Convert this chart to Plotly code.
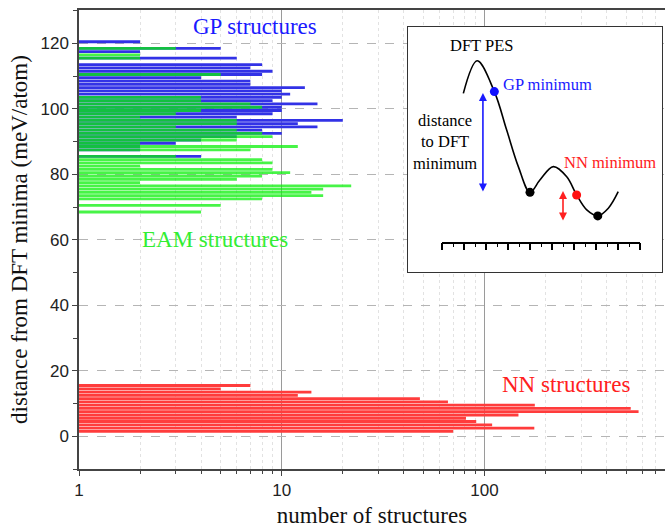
import plotly.graph_objects as go

# ---------------- data ----------------
# bin centres (meV/atom) and number of structures per bin
gp_centers = [120.5, 119.5, 118.5, 117.5, 116.5, 115.5, 114.5, 113.5, 112.5, 111.5,
              110.5, 109.5, 108.5, 107.5, 106.5, 105.5, 104.5, 103.5, 102.5, 101.5,
              100.5, 99.5, 98.5, 97.5, 96.5, 95.5, 94.5, 93.5, 92.5, 91.5,
              90.5, 89.5, 88.5, 87.5, 86.5, 85.5]
gp_counts = [2, 0, 5, 2, 0, 6, 0, 8, 7, 9,
             8, 4, 7, 7, 13, 10, 11, 10, 9, 15,
             10, 10, 9, 6, 20, 12, 15, 8, 10, 6,
             4, 3, 2, 2, 0, 4]

eam_centers = [118.5, 116.5, 115.5, 110.5, 103.5, 102.5, 101.5, 100.5, 99.5, 98.5,
               97.5, 96.5, 95.5, 94.5, 93.5, 92.5, 91.5, 90.5, 89.5, 88.5,
               87.5, 85.5, 84.5, 83.5, 82.5, 81.5, 80.5, 79.5, 78.5, 77.5,
               76.5, 75.5, 74.5, 73.5, 72.5, 70.5, 68.5]
eam_counts = [3, 2, 2, 5, 4, 4, 7, 8, 4, 3,
              2, 6, 6, 3, 6, 8, 9, 6, 2, 12,
              7, 3, 8, 9, 2, 9, 11, 8, 6, 2,
              22, 16, 14, 16, 8, 5, 4]

nn_centers = [1.5, 2.5, 3.5, 4.5, 5.5, 6.5, 7.5, 8.5, 9.5, 10.5, 11.5, 12.5, 13.5, 14.5, 15.5]
nn_counts = [70, 176, 109, 91, 81, 147, 575, 526, 177, 66, 48, 12, 14, 5, 7]

# inset schematic (arbitrary units, ruler runs 0..9)
pes_x = [0.97, 1.60, 2.38, 2.94, 3.47, 4.0, 4.45, 5.06, 5.67, 6.12, 6.58, 7.08, 7.56, 8.01]
pes_y = [8.12, 9.60, 8.20, 6.45, 4.79, 3.62, 4.18, 4.79, 4.33, 3.50, 2.82, 2.55, 2.90, 3.65]
dot_x = [2.38, 4.0, 6.12, 7.08]
dot_y = [8.20, 3.62, 3.50, 2.55]
dot_colors = ["#1010ff", "black", "#ff1010", "black"]
inset_x = [-1.545, 10.0]
inset_y = [0, 11.136]

def nz(c, v):
    pairs = [(a, b) for a, b in zip(c, v) if b > 0]
    return [p[0] for p in pairs], [p[1] for p in pairs]

gy, gx = nz(gp_centers, gp_counts)
ey, ex = nz(eam_centers, eam_counts)
ny, nx = nz(nn_centers, nn_counts)

SERIF = "Liberation Serif"
SANS = "Liberation Sans"

fig = go.Figure()
fig.add_trace(go.Bar(x=gx, y=gy, orientation="h", width=0.86,
                     marker=dict(color="#3232e6", line=dict(width=0)), name="GP"))
fig.add_trace(go.Bar(x=ex, y=ey, orientation="h", width=0.86,
                     marker=dict(color="rgba(10,240,10,0.75)", line=dict(width=0)), name="EAM"))
fig.add_trace(go.Bar(x=nx, y=ny, orientation="h", width=0.86,
                     marker=dict(color="#ff3c3c", line=dict(width=0)), name="NN"))

# inset frame subplot (white background)
fig.add_trace(go.Scatter(x=[inset_x[0], inset_x[1], inset_x[1], inset_x[0], inset_x[0]],
                         y=[inset_y[0], inset_y[0], inset_y[1], inset_y[1], inset_y[0]],
                         mode="lines", fill="toself", fillcolor="white",
                         line=dict(width=0, color="white"), xaxis="x2", yaxis="y2",
                         hoverinfo="skip"))
# curve and dots on the ruler subplot
fig.add_trace(go.Scatter(x=pes_x, y=pes_y, mode="lines", xaxis="x3", yaxis="y2",
                         line=dict(color="black", width=1.6, shape="spline", smoothing=1.0),
                         hoverinfo="skip"))
fig.add_trace(go.Scatter(x=dot_x, y=dot_y, mode="markers", xaxis="x3", yaxis="y2",
                         marker=dict(color=dot_colors, size=9), hoverinfo="skip"))

L, W, T, H = 79, 586, 10, 459
def px(x):
    return (x - L) / W
def py(y):
    return 1 - (y - T) / H

minor_x = [2, 3, 4, 5, 6, 7, 8, 9, 20, 30, 40, 50, 60, 70, 80, 90, 200, 300, 400, 500, 600, 700]

fig.update_layout(
    width=665, height=529,
    margin=dict(l=L, r=0, t=T, b=529 - T - H),
    paper_bgcolor="white", plot_bgcolor="white",
    showlegend=False, barmode="overlay",
    xaxis=dict(type="log", range=[0, 2.89], tickvals=[1, 10, 100], ticktext=["1", "10", "100"],
               ticks="outside", ticklen=5, tickcolor="#444", tickwidth=1.2,
               showline=True, linecolor="#444", linewidth=1.5, mirror=True,
               showgrid=True, gridcolor="#9a9a9a", gridwidth=1, zeroline=False,
               minor=dict(tickvals=minor_x, ticks="outside", ticklen=3, tickcolor="#444",
                          showgrid=True, gridcolor="#e2e2e2", griddash="dot"),
               tickfont=dict(family=SANS, size=17, color="#222"),
               title=dict(text="number of structures", font=dict(family=SERIF, size=23, color="#111"),
                          standoff=8)),
    yaxis=dict(range=[-10, 130.2], tick0=0, dtick=20,
               ticks="outside", ticklen=5, tickcolor="#444", tickwidth=1.2,
               showline=True, linecolor="#444", linewidth=1.5, mirror=False,
               showgrid=True, gridcolor="#b5b5b5", griddash="dash", zeroline=False,
               minor=dict(dtick=10, ticks="outside", ticklen=4, tickcolor="#444"),
               tickfont=dict(family=SANS, size=17, color="#222"),
               title=dict(text="distance from DFT minima (meV/atom)",
                          font=dict(family=SERIF, size=23, color="#111"), standoff=6)),
    xaxis2=dict(domain=[px(408), px(662)], range=inset_x, anchor="y2",
                showline=True, mirror=True, linecolor="#333", linewidth=1.2,
                ticks="", showticklabels=False, showgrid=False, zeroline=False),
    yaxis2=dict(domain=[py(272), py(27)], range=inset_y, anchor="x2",
                showline=True, mirror=True, linecolor="#333", linewidth=1.2,
                ticks="", showticklabels=False, showgrid=False, zeroline=False),
    xaxis3=dict(domain=[px(442), px(640)], range=[0, 9], anchor="free", position=py(242.7),
                showline=True, linecolor="black", linewidth=1.5,
                ticks="outside", ticklen=7, tickwidth=1.5, tickcolor="black", tick0=0, dtick=1,
                minor=dict(dtick=0.5, ticks="outside", ticklen=4, tickwidth=1.2, tickcolor="black"),
                showticklabels=False, showgrid=False, zeroline=False),
)

ann = [
    dict(text="GP structures", x=px(255), y=py(27), color="#1a1aff", size=23),
    dict(text="EAM structures", x=px(215), y=py(240), color="#33ee33", size=23),
    dict(text="NN structures", x=px(566), y=py(384), color="#ff2020", size=23),
    dict(text="DFT PES", x=px(481), y=py(45), color="black", size=16.5),
    dict(text="distance<br>to DFT<br>minimum", x=px(445), y=py(142), color="black", size=16.5),
]
for a in ann:
    fig.add_annotation(text=a["text"], x=a["x"], y=a["y"], xref="paper", yref="paper",
                       showarrow=False, xanchor="center", yanchor="middle",
                       font=dict(family=SERIF, size=a["size"], color=a["color"]))
fig.add_annotation(text="GP minimum", x=px(501), y=py(85), xref="paper", yref="paper",
                   showarrow=False, xanchor="left", yanchor="middle",
                   font=dict(family=SERIF, size=16.5, color="#1a1aff"))
fig.add_annotation(text="NN minimum", x=px(562), y=py(163), xref="paper", yref="paper",
                   showarrow=False, xanchor="left", yanchor="middle",
                   font=dict(family=SERIF, size=16.5, color="#ff2020"))

# double arrows
for (xa, y0, y1, col) in [(1.86, 8.14, 3.59, "#1a1aff"), (5.5, 3.68, 2.27, "#ff2020")]:
    fig.add_annotation(x=xa, y=y0, ax=xa, ay=y1, xref="x3", yref="y2", axref="x3", ayref="y2",
                       text="", showarrow=True, arrowhead=2, startarrowhead=2,
                       arrowside="end+start", arrowsize=1, startarrowsize=1,
                       arrowwidth=1.6, arrowcolor=col)

fig.write_html("out.html")
